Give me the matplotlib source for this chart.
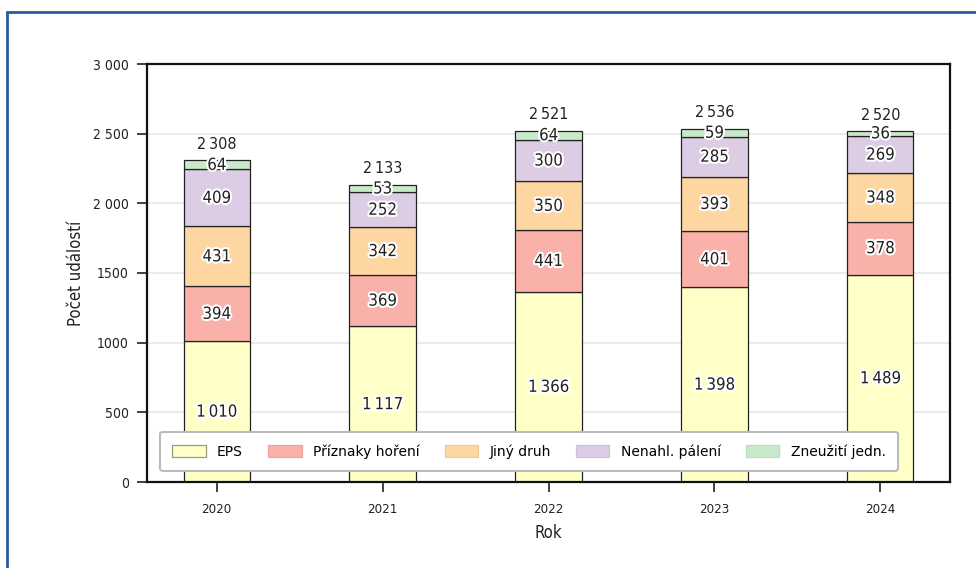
import matplotlib
matplotlib.use("Agg")
import matplotlib.pyplot as plt
import matplotlib.patheffects as pe
from matplotlib.patches import Rectangle
from matplotlib.font_manager import FontProperties
import numpy as np

years = ["2020", "2021", "2022", "2023", "2024"]
series_names = ["EPS", "Příznaky hoření", "Jiný druh", "Nenahl. pálení", "Zneužití jedn."]
eps = [1010, 1117, 1366, 1398, 1489]
priznaky = [394, 369, 441, 401, 378]
jiny = [431, 342, 350, 393, 348]
nenahl = [409, 252, 300, 285, 269]
zneuziti = [64, 53, 64, 59, 36]
totals = [2308, 2133, 2521, 2536, 2520]
ytick_vals = [0, 500, 1000, 1500, 2000, 2500, 3000]
ytick_labels = ["0", "500", "1000", "1500", "2 000", "2 500", "3 000"]

colors = ["#FFFFC8", "#F9B1AA", "#FDD6A2", "#DCCDE5", "#C9E9CB"]
legend_edges = ["#9A9A80", "#EFA39C", "#F2C995", "#CFC0D8", "#BCDDBE"]

def fmt(v):
    return f"{v:,}".replace(",", "\u2009")

def fp(size):
    return FontProperties(family="DejaVu Sans", stretch="condensed", size=size)

fig = plt.figure(figsize=(9.76, 5.68), dpi=100)
fig.patches.append(Rectangle((7/976, -0.1), 1.2, 1 - 12/568 + 0.1, transform=fig.transFigure,
                             fill=False, edgecolor="#2A5C9A", linewidth=2, zorder=0))
ax = fig.add_axes([147/976, 1 - 482/568, (950 - 147)/976, (482 - 64)/568])

x = np.arange(len(years))
width = 0.4
series = [eps, priznaky, jiny, nenahl, zneuziti]
bottom = np.zeros(len(years))
stroke = [pe.withStroke(linewidth=3, foreground="white")]
for name, vals, col in zip(series_names, series, colors):
    vals = np.array(vals)
    ax.bar(x, vals, width, bottom=bottom, color=col, edgecolor="#222222", linewidth=0.9,
           label=name, zorder=2)
    for xi, b, v in zip(x, bottom, vals):
        ax.text(xi, b + v / 2, fmt(int(v)), ha="center", va="center", fontproperties=fp(12),
                color="#222222", path_effects=stroke, zorder=4)
    bottom = bottom + vals

for xi, t in zip(x, totals):
    ax.text(xi, t + 60, fmt(t), ha="center", va="bottom", fontproperties=fp(11.5),
            color="#222222", zorder=4)

ax.set_xlim(-0.42, 4.42)
ax.set_ylim(0, 3000)
ax.set_xticks(x)
ax.set_xticklabels(years, fontproperties=fp(9.5), color="#222222")
ax.set_yticks(ytick_vals)
ax.set_yticklabels(ytick_labels, fontproperties=fp(10), color="#222222")
ax.tick_params(axis="both", length=7, width=1.3, color="#333333")
ax.tick_params(axis="x", pad=8)
ax.tick_params(axis="y", pad=6)
ax.yaxis.grid(True, color="#E6E6E6", linewidth=1.2, zorder=0)
ax.set_axisbelow(True)
for sp in ax.spines.values():
    sp.set_linewidth(1.6)
    sp.set_color("#111111")

ax.set_ylabel("Počet událostí", fontproperties=fp(12), color="#222222", labelpad=6)
ax.set_xlabel("Rok", fontproperties=fp(12), color="#222222", labelpad=6)

leg = ax.legend(loc="lower left", bbox_to_anchor=(6/803, 4/418, 752/803, 40/418), mode="expand",
                ncol=5, frameon=True, fontsize=10, handlelength=2.4, handleheight=1.0,
                borderpad=0.9, columnspacing=1.5, fancybox=True, framealpha=1.0)
leg.get_frame().set_edgecolor("#BBBBBB")
leg.get_frame().set_linewidth(1.5)
for h, ec in zip(leg.legend_handles, legend_edges):
    h.set_edgecolor(ec)
leg.set_zorder(5)

fig.savefig("out.png", dpi=100, facecolor="white")
